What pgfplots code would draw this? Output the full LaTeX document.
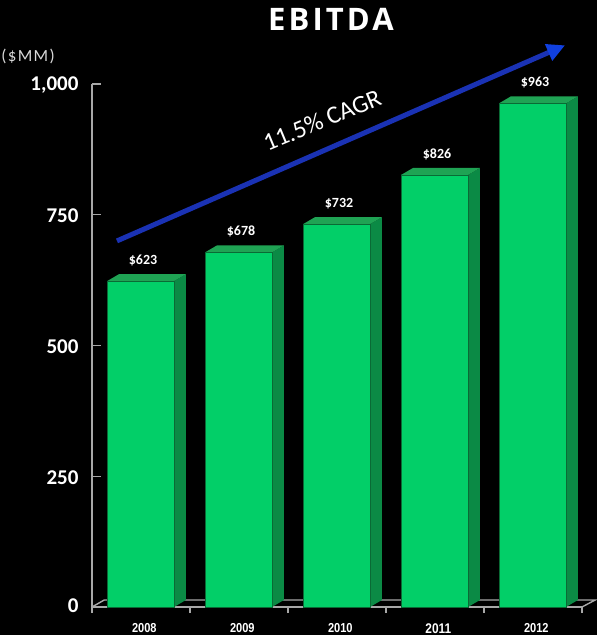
\documentclass[border=0pt]{standalone}
\usepackage{fontspec}
\setmainfont{Carlito}
\newfontfamily\titlefont[LetterSpace=10]{Open Sans}
\newfontfamily\unitfont[LetterSpace=8]{Carlito}
\newfontfamily\yearfont{Liberation Sans}
\usepackage{pgfplots}
\pgfplotsset{compat=1.18}
\usetikzlibrary{arrows.meta}

\definecolor{barfront}{HTML}{02CF68}
\definecolor{barside}{HTML}{0B8A45}
\definecolor{bartop}{HTML}{1FA354}
\definecolor{baredge}{HTML}{0A6A35}
\definecolor{axisgrey}{HTML}{A8A8A8}
\definecolor{arrowblue}{HTML}{1A32B4}
\definecolor{headblue}{HTML}{1040E0}

% side and top faces of one bar: x position, value
\newcommand{\barfaces}[2]{
  \addplot[sharp plot, no markers, fill=barside, draw=none] coordinates {(#1+0.342,0) (#1+0.464,13.4) (#1+0.464,#2+13.4) (#1+0.342,#2)} -- cycle;
  \addplot[sharp plot, no markers, fill=bartop, draw=none] coordinates {(#1-0.342,#2) (#1-0.22,#2+13.4) (#1+0.464,#2+13.4) (#1+0.342,#2)} -- cycle;
}

\begin{document}
\begin{tikzpicture}
\fill[black] (0pt,0pt) rectangle (597pt,635pt);
\useasboundingbox (0pt,0pt) rectangle (597pt,635pt);

\node[text=white, font=\titlefont\bfseries\fontsize{31}{31}\selectfont] at (331pt,615.5pt) {EBITDA};
\node[text=white!85!black, font=\unitfont\fontsize{17}{17}\selectfont] at (28pt,579pt) {(\$MM)};

\begin{axis}[
  at={(92pt,28pt)}, anchor=south west,
  scale only axis,
  width=490pt, height=523pt,
  xmin=-0.495, xmax=4.505,
  ymin=0, ymax=1000,
  clip=false,
  axis lines=left,
  axis line style={axisgrey, line width=1.6pt, -},
  ytick={0,250,500,750,1000},
  yticklabels={\raisebox{5pt}{0},250,500,750,{1,000}},
  yticklabel style={text=white, font=\bfseries\fontsize{21}{21}\selectfont, xshift=-10pt, yshift=-1pt},
  ytick style={axisgrey, line width=1.2pt},
  tick align=inside,
  major tick length=9pt,
  xtick={0,1,2,3,4},
  xticklabels={2008,2009,2010,{\fontsize{14}{14}\selectfont 2011},2012},
  xticklabel style={text=white, font=\yearfont\bfseries\fontsize{13}{13}\selectfont, xscale=0.85, xshift=4.5pt, yshift=-13pt},
  x tick style={draw=none},
  extra x ticks={-0.495,0.505,1.505,2.505,3.505,4.505},
  extra x tick labels={},
  extra x tick style={tick align=outside, x tick style={draw=axisgrey, line width=1.2pt}, major tick length=6pt},
]
% floor
\addplot[sharp plot, no markers, axisgrey, line width=1.4pt]
  coordinates {(-0.495,0) (-0.37,13.4) (4.64,13.4) (4.505,0)};

\barfaces{0}{623}
\barfaces{1}{678}
\barfaces{2}{732}
\barfaces{3}{826}
\barfaces{4}{963}

\addplot[ybar, bar width=67pt, bar shift=0pt, fill=barfront, draw=baredge, line width=0.5pt,
  nodes near coords={\$\pgfmathprintnumber[1000 sep={}, assume math mode=true]{\pgfplotspointmeta}},
  every node near coord/.style={text=white, anchor=center, yshift=21pt, xshift=2.5pt,
    font=\bfseries\fontsize{14}{14}\selectfont}]
  coordinates {(0,623) (1,678) (2,732) (3,826) (4,963)};

% growth arrow
\draw[arrowblue, line width=5pt, -{Triangle[length=18pt,width=17pt,color=headblue]}]
  (axis cs:-0.24,700) -- (axis cs:4.332,1074);
\node[text=white, rotate=22.5, font=\fontsize{25}{25}\selectfont]
  at (axis cs:1.852,931) {11.5\% CAGR};
\end{axis}
\end{tikzpicture}
\end{document}
